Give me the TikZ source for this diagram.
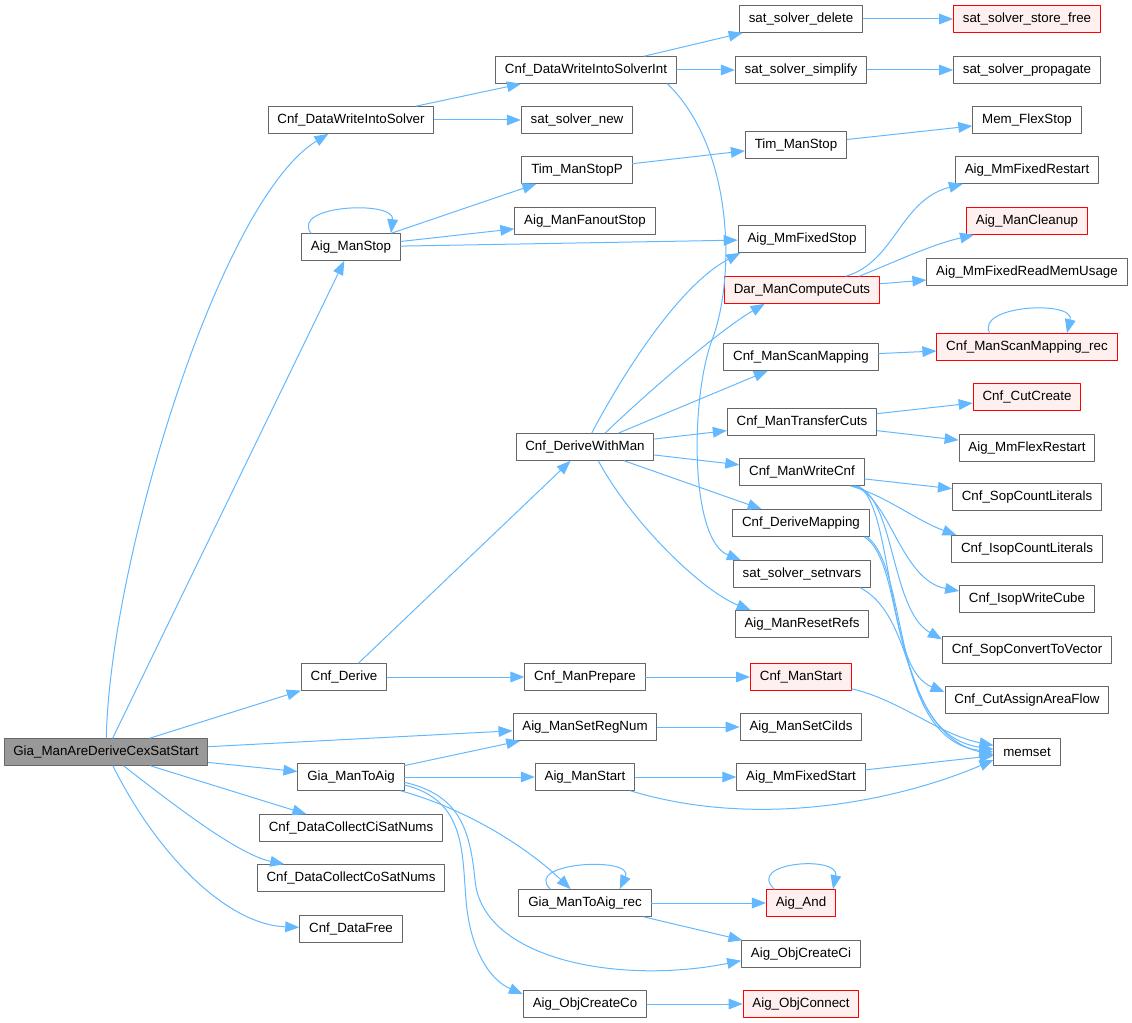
\documentclass[tikz,border=0pt]{standalone}
\usepackage{fontspec}
\setmainfont{Liberation Sans}
\usetikzlibrary{arrows.meta,calc}
\definecolor{edgeblue}{HTML}{63B8FF}
\definecolor{boxgray}{HTML}{666666}
\definecolor{rootgray}{HTML}{999999}
\definecolor{redfill}{HTML}{FFF0F0}
\tikzset{
  every picture/.style={line join=round, line cap=round},
  fn/.style={draw=boxgray, fill=white, line width=0.75pt, minimum height=20pt, inner xsep=7pt, inner ysep=0pt, font=\fontsize{10}{12}\selectfont},
  fnroot/.style={fn, fill=rootgray},
  fnred/.style={fn, draw=red, fill=redfill},
  call/.style={draw=edgeblue, line width=0.75pt, -{Triangle[length=10.5pt,width=8pt]}},
}

\begin{document}
\begin{tikzpicture}[x=0.75pt,y=-0.75pt]
\useasboundingbox (0,0) rectangle (1132,1023);
\node[fnroot] (gia) at (106,752) {Gia\_ManAreDeriveCexSatStart};
\node[fn] (dwis) at (351,120) {Cnf\_DataWriteIntoSolver};
\node[fn] (dwisi) at (586,70) {Cnf\_DataWriteIntoSolverInt};
\node[fn] (ssdel) at (801,19) {sat\_solver\_delete};
\node[fnred] (ssfree) at (1027,19) {sat\_solver\_store\_free};
\node[fn] (sssimp) at (801,70) {sat\_solver\_simplify};
\node[fn] (ssprop) at (1027,70) {sat\_solver\_propagate};
\node[fn] (ssnew) at (577,120) {sat\_solver\_new};
\node[fn] (memflex) at (1027,120) {Mem\_FlexStop};
\node[fn] (tmsp) at (577,170) {Tim\_ManStopP};
\node[fn] (tms) at (796,145) {Tim\_ManStop};
\node[fn] (mmfr) at (1027,170) {Aig\_MmFixedRestart};
\node[fn] (ams) at (351,247) {Aig\_ManStop};
\node[fn] (amfs) at (585,221) {Aig\_ManFanoutStop};
\node[fnred] (amcl) at (1027,221) {Aig\_ManCleanup};
\node[fn] (mmfs) at (802,239) {Aig\_MmFixedStop};
\node[fnred] (dmcc) at (802,290) {Dar\_ManComputeCuts};
\node[fn] (mmrmu) at (1027,272) {Aig\_MmFixedReadMemUsage};
\node[fnred] (smrec) at (1027,347) {Cnf\_ManScanMapping\_rec};
\node[fn] (sm) at (801,357) {Cnf\_ManScanMapping};
\node[fnred] (cutc) at (1027,397) {Cnf\_CutCreate};
\node[fn] (tc) at (802,422) {Cnf\_ManTransferCuts};
\node[fn] (dwm) at (585,447) {Cnf\_DeriveWithMan};
\node[fn] (mmflr) at (1027,448) {Aig\_MmFlexRestart};
\node[fn] (wc) at (802,472) {Cnf\_ManWriteCnf};
\node[fn] (sopcl) at (1027,497) {Cnf\_SopCountLiterals};
\node[fn] (dmap) at (801,523) {Cnf\_DeriveMapping};
\node[fn] (isopcl) at (1027,549) {Cnf\_IsopCountLiterals};
\node[fn] (ssnv) at (802,574) {sat\_solver\_setnvars};
\node[fn] (isopwc) at (1027,599) {Cnf\_IsopWriteCube};
\node[fn] (rr) at (802,624) {Aig\_ManResetRefs};
\node[fn] (sopcv) at (1027,650) {Cnf\_SopConvertToVector};
\node[fn] (cder) at (344,677) {Cnf\_Derive};
\node[fn] (prep) at (585,677) {Cnf\_ManPrepare};
\node[fnred] (cms) at (801,677) {Cnf\_ManStart};
\node[fn] (caaf) at (1027,700) {Cnf\_CutAssignAreaFlow};
\node[fn] (srn) at (585,727) {Aig\_ManSetRegNum};
\node[fn] (scids) at (801,727) {Aig\_ManSetCiIds};
\node[fn] (mset) at (1027,752) {memset};
\node[fn] (gta) at (351,777) {Gia\_ManToAig};
\node[fn] (ast) at (585,777) {Aig\_ManStart};
\node[fn] (mmfst) at (801,777) {Aig\_MmFixedStart};
\node[fn] (cici) at (351,828) {Cnf\_DataCollectCiSatNums};
\node[fn] (coco) at (351,878) {Cnf\_DataCollectCoSatNums};
\node[fn] (gtarec) at (585,903) {Gia\_ManToAig\_rec};
\node[fnred] (aand) at (801,903) {Aig\_And};
\node[fn] (free) at (351,929) {Cnf\_DataFree};
\node[fn] (occi) at (801,954) {Aig\_ObjCreateCi};
\node[fn] (occo) at (585,1004) {Aig\_ObjCreateCo};
\node[fnred] (oconn) at (801,1004) {Aig\_ObjConnect};

\draw[call] (gia) .. controls (110,560) and (220,200) .. (dwis);
\draw[call] (gia) -- (ams);
\draw[call] (gia) -- (cder);
\draw[call] (gia) -- (srn);
\draw[call] (gia) -- (gta);
\draw[call] (gia) -- (cici);
\draw[call] (gia) .. controls (180,810) and (240,855) .. (coco);
\draw[call] (gia) .. controls (160,860) and (230,925) .. (free);
\draw[call] (dwis) -- (dwisi);
\draw[call] (dwis) -- (ssnew);
\draw[call] (dwisi) -- (ssdel);
\draw[call] (dwisi) -- (sssimp);
\draw[call] ([xshift=-7pt]dwisi.south east) .. controls (735,150) and (735,280) .. (712,340) .. controls (690,400) and (690,540) .. ([xshift=6pt]ssnv.north west);
\draw[call] (ssdel) -- (ssfree);
\draw[call] (sssimp) -- (ssprop);
\draw[call] ([xshift=-30pt]ams.north) .. controls (290,205) and (395,200) .. ([xshift=30pt]ams.north);
\draw[call] (ams) -- (tmsp);
\draw[call] (ams) -- (amfs);
\draw[call] (ams) -- (mmfs);
\draw[call] (tmsp) -- (tms);
\draw[call] (tms) -- (memflex);
\draw[call] (cder) -- (dwm);
\draw[call] (cder) -- (prep);
\draw[call] ([xshift=5pt]dwm.north) .. controls (625,370) and (680,285) .. ([xshift=2pt]mmfs.south west);
\draw[call] ([xshift=15pt]dwm.north) .. controls (650,390) and (720,330) .. ([xshift=-28pt]dmcc.south);
\draw[call] (dwm) -- (sm);
\draw[call] (dwm) -- (tc);
\draw[call] (dwm) -- (wc);
\draw[call] (dwm) -- (dmap);
\draw[call] ([xshift=10pt]dwm.south) .. controls (630,520) and (700,590) .. ([xshift=12pt]rr.north west);
\draw[call] ([xshift=33pt]dmcc.north) .. controls (895,262) and (900,200) .. ([xshift=6pt]mmfr.south west);
\draw[call] ([xshift=43pt]dmcc.north) .. controls (895,262) and (930,245) .. ([xshift=6pt]amcl.south west);
\draw[call] (dmcc) -- (mmrmu);
\draw[call] (sm) -- (smrec);
\draw[call] ([xshift=-28pt]smrec.north) .. controls (975,305) and (1075,300) .. ([xshift=30pt]smrec.north);
\draw[call] (tc) -- (cutc);
\draw[call] (tc) -- (mmflr);
\draw[call] (wc) -- (sopcl);
\draw[call] ([xshift=36pt]wc.south) .. controls (885,495) and (915,520) .. ([xshift=4pt]isopcl.north west);
\draw[call] ([xshift=38pt]wc.south) .. controls (890,495) and (900,580) .. ([yshift=6pt]isopwc.west);
\draw[call] ([xshift=40pt]wc.south) .. controls (895,495) and (890,610) .. ([yshift=8pt]sopcv.west);
\draw[call] ([xshift=42pt]wc.south) .. controls (900,510) and (880,730) .. ([yshift=-2pt]mset.west);
\draw[call] ([xshift=-4pt]dmap.south east) .. controls (900,560) and (890,670) .. ([yshift=6pt]caaf.west);
\draw[call] ([xshift=-2pt]dmap.south east) .. controls (910,570) and (890,740) .. (mset.west);
\draw[call] ([xshift=-8pt]ssnv.south east) .. controls (920,620) and (900,735) .. ([yshift=2pt]mset.west);
\draw[call] (prep) -- (cms);
\draw[call] (cms) .. controls (900,700) and (940,735) .. ([yshift=5pt]mset.west);
\draw[call] (srn) -- (scids);
\draw[call] (gta) -- (srn);
\draw[call] (gta) -- (ast);
\draw[call] (gta) .. controls (470,810) and (530,850) .. (gtarec);
\draw[call] ([yshift=-4pt]gta.east) .. controls (460,795) and (470,830) .. (475,880) .. controls (482,960) and (620,985) .. ([yshift=-5pt]occi.west);
\draw[call] ([yshift=-6pt]gta.east) .. controls (465,800) and (462,850) .. (466,900) .. controls (470,950) and (490,980) .. ([yshift=-3pt]occo.north west);
\draw[call] (ast) -- (mmfst);
\draw[call] (ast) .. controls (760,830) and (900,800) .. ([yshift=-6pt]mset.west);
\draw[call] (mmfst) -- (mset);
\draw[call] ([xshift=-26pt]gtarec.north) .. controls (522,862) and (635,856) .. ([xshift=26pt]gtarec.north);
\draw[call] (gtarec) -- (aand);
\draw[call] (gtarec) -- (occi);
\draw[call] ([xshift=-20pt]aand.north) .. controls (745,862) and (840,855) .. ([xshift=24pt]aand.north);
\draw[call] (occo) -- (oconn);
\end{tikzpicture}
\end{document}
